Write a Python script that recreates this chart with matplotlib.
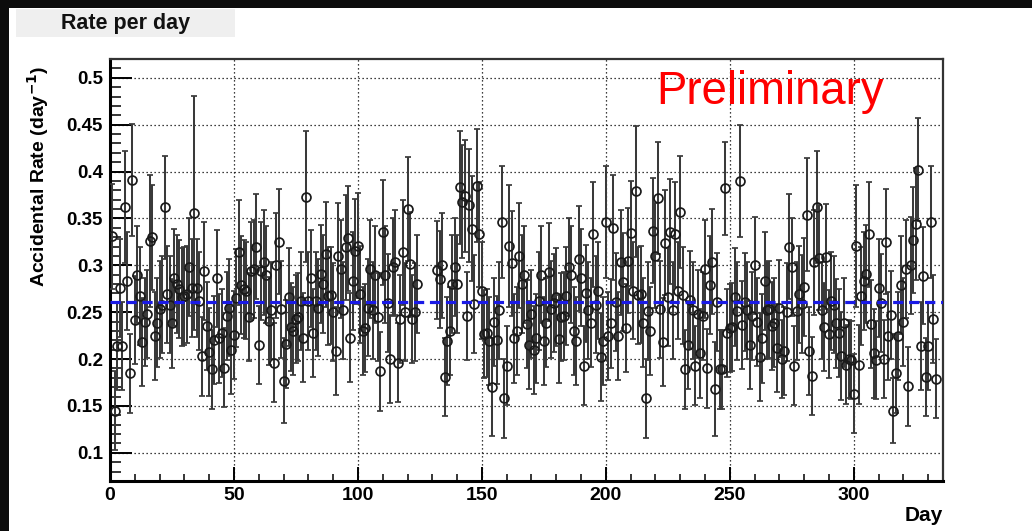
import matplotlib
matplotlib.use("Agg")
import matplotlib.pyplot as plt
from matplotlib.patches import Rectangle
from matplotlib.ticker import MultipleLocator, FuncFormatter

plt.rcParams['font.family'] = ['Liberation Sans', 'DejaVu Sans']

# ---------------- data ----------------
days = list(range(1, 125)) + list(range(132, 334))

rate = [
    0.331, 0.145, 0.214, 0.276, 0.214, 0.362, 0.283, 0.185, 0.391, 0.242,
    0.290, 0.267, 0.218, 0.240, 0.248, 0.326, 0.330, 0.225, 0.239, 0.253,
    0.258, 0.362, 0.269, 0.258, 0.238, 0.287, 0.280, 0.275, 0.266, 0.267,
    0.269, 0.298, 0.276, 0.356, 0.276, 0.262, 0.203, 0.294, 0.235, 0.208,
    0.189, 0.220, 0.286, 0.222, 0.228, 0.191, 0.246, 0.255, 0.210, 0.226,
    0.265, 0.314, 0.279, 0.275, 0.273, 0.245, 0.294, 0.296, 0.320, 0.215,
    0.294, 0.303, 0.290, 0.241, 0.252, 0.196, 0.300, 0.325, 0.253, 0.177,
    0.216, 0.266, 0.234, 0.230, 0.243, 0.245, 0.262, 0.223, 0.373, 0.262,
    0.286, 0.228, 0.262, 0.255, 0.291, 0.280, 0.312, 0.267, 0.268, 0.250,
    0.209, 0.310, 0.296, 0.252, 0.319, 0.329, 0.223, 0.283, 0.315, 0.321,
    0.269, 0.230, 0.233, 0.255, 0.296, 0.252, 0.290, 0.245, 0.187, 0.335,
    0.290, 0.260, 0.200, 0.298, 0.303, 0.196, 0.243, 0.314, 0.250, 0.360,
    0.301, 0.243, 0.250, 0.280,
    0.295, 0.285, 0.300, 0.181, 0.219, 0.230, 0.280, 0.298, 0.280,
    0.383, 0.368, 0.374, 0.246, 0.364, 0.339, 0.259, 0.385, 0.333, 0.273,
    0.227, 0.228, 0.219, 0.170, 0.240, 0.220, 0.252, 0.346, 0.158, 0.193,
    0.321, 0.302, 0.222, 0.230, 0.310, 0.280, 0.290, 0.237, 0.215, 0.248,
    0.210, 0.222, 0.262, 0.290, 0.219, 0.239, 0.293, 0.253, 0.260, 0.266,
    0.221, 0.245, 0.246, 0.267, 0.298, 0.290, 0.230, 0.219, 0.307, 0.287,
    0.193, 0.270, 0.252, 0.239, 0.333, 0.258, 0.273, 0.202, 0.219, 0.346,
    0.225, 0.238, 0.340, 0.261, 0.225, 0.303, 0.282, 0.233, 0.305, 0.334,
    0.273, 0.379, 0.268, 0.269, 0.239, 0.158, 0.251, 0.230, 0.337, 0.310,
    0.372, 0.253, 0.218, 0.324, 0.266, 0.336, 0.252, 0.333, 0.273, 0.357,
    0.268, 0.189, 0.215, 0.263, 0.252, 0.193, 0.248, 0.206, 0.246, 0.296,
    0.190, 0.279, 0.304, 0.168, 0.261, 0.189, 0.189, 0.382, 0.228, 0.233,
    0.234, 0.266, 0.251, 0.390, 0.236, 0.261, 0.252, 0.215, 0.246, 0.300,
    0.240, 0.202, 0.222, 0.283, 0.252, 0.253, 0.235, 0.239, 0.212, 0.254,
    0.200, 0.209, 0.250, 0.320, 0.298, 0.193, 0.251, 0.269, 0.259, 0.277,
    0.354, 0.209, 0.182, 0.303, 0.362, 0.308, 0.252, 0.234, 0.309, 0.227,
    0.262, 0.258, 0.238, 0.228, 0.203, 0.239, 0.194, 0.200, 0.199, 0.163,
    0.321, 0.194, 0.267, 0.283, 0.291, 0.333, 0.237, 0.206, 0.199, 0.276,
    0.260, 0.200, 0.325, 0.225, 0.247, 0.145, 0.185, 0.225, 0.279, 0.240,
    0.296, 0.171, 0.300, 0.327, 0.344, 0.402, 0.214, 0.289, 0.181, 0.214,
    0.346, 0.243, 0.179,
]

rate_err = [
    0.056, 0.042, 0.047, 0.052, 0.047, 0.060, 0.052, 0.042, 0.060, 0.047,
    0.052, 0.052, 0.047, 0.047, 0.047, 0.070, 0.056, 0.047, 0.047, 0.052,
    0.052, 0.055, 0.052, 0.052, 0.047, 0.052, 0.052, 0.052, 0.052, 0.052,
    0.052, 0.052, 0.052, 0.125, 0.052, 0.052, 0.042, 0.052, 0.047, 0.047,
    0.042, 0.047, 0.052, 0.047, 0.047, 0.042, 0.047, 0.052, 0.047, 0.047,
    0.052, 0.056, 0.052, 0.052, 0.052, 0.047, 0.052, 0.052, 0.056, 0.042,
    0.052, 0.056, 0.052, 0.047, 0.052, 0.042, 0.056, 0.056, 0.052, 0.045,
    0.047, 0.052, 0.047, 0.047, 0.047, 0.047, 0.052, 0.047, 0.070, 0.052,
    0.052, 0.047, 0.052, 0.052, 0.052, 0.052, 0.056, 0.052, 0.052, 0.052,
    0.047, 0.056, 0.052, 0.052, 0.056, 0.056, 0.047, 0.052, 0.056, 0.056,
    0.052, 0.047, 0.047, 0.052, 0.052, 0.052, 0.052, 0.047, 0.042, 0.056,
    0.052, 0.052, 0.047, 0.052, 0.056, 0.042, 0.047, 0.056, 0.052, 0.055,
    0.056, 0.047, 0.052, 0.052,
    0.052, 0.052, 0.056, 0.042, 0.047, 0.047, 0.052, 0.052, 0.052,
    0.060, 0.060, 0.060, 0.047, 0.060, 0.056, 0.052, 0.060, 0.056, 0.052,
    0.047, 0.047, 0.047, 0.052, 0.047, 0.047, 0.052, 0.060, 0.042, 0.042,
    0.065, 0.056, 0.047, 0.047, 0.056, 0.052, 0.052, 0.047, 0.047, 0.047,
    0.047, 0.047, 0.052, 0.052, 0.047, 0.047, 0.052, 0.052, 0.052, 0.052,
    0.047, 0.047, 0.047, 0.052, 0.052, 0.052, 0.047, 0.047, 0.056, 0.052,
    0.042, 0.052, 0.052, 0.047, 0.056, 0.052, 0.052, 0.047, 0.047, 0.060,
    0.047, 0.047, 0.056, 0.052, 0.047, 0.056, 0.052, 0.047, 0.056, 0.056,
    0.052, 0.070, 0.052, 0.052, 0.047, 0.042, 0.052, 0.047, 0.056, 0.056,
    0.060, 0.052, 0.047, 0.056, 0.052, 0.056, 0.052, 0.056, 0.052, 0.060,
    0.052, 0.042, 0.047, 0.052, 0.052, 0.042, 0.047, 0.047, 0.047, 0.052,
    0.042, 0.052, 0.056, 0.050, 0.052, 0.042, 0.042, 0.050, 0.047, 0.047,
    0.047, 0.052, 0.052, 0.060, 0.047, 0.052, 0.052, 0.047, 0.047, 0.052,
    0.047, 0.047, 0.047, 0.052, 0.052, 0.052, 0.047, 0.047, 0.047, 0.052,
    0.042, 0.047, 0.052, 0.056, 0.052, 0.042, 0.052, 0.052, 0.052, 0.052,
    0.060, 0.047, 0.042, 0.056, 0.060, 0.056, 0.052, 0.047, 0.056, 0.047,
    0.052, 0.052, 0.047, 0.047, 0.047, 0.047, 0.042, 0.042, 0.042, 0.042,
    0.065, 0.042, 0.052, 0.052, 0.052, 0.056, 0.047, 0.047, 0.042, 0.052,
    0.052, 0.042, 0.056, 0.047, 0.047, 0.035, 0.042, 0.047, 0.052, 0.047,
    0.052, 0.042, 0.052, 0.056, 0.060, 0.055, 0.047, 0.052, 0.042, 0.047,
    0.060, 0.047, 0.042,
]

mean_rate = 0.261

assert len(days) == len(rate) == len(rate_err)

# ---------------- figure ----------------
W, H = 1032, 531
fig = plt.figure(figsize=(W / 100, H / 100), dpi=100)
fig.patch.set_facecolor('white')

# dark screenshot borders (top and left)
fig.add_artist(Rectangle((0, 1 - 8 / H), 1, 8 / H, transform=fig.transFigure,
                         facecolor='#0c0c0c', edgecolor='none', zorder=0))
fig.add_artist(Rectangle((0, 0), 9 / W, 1, transform=fig.transFigure,
                         facecolor='#0c0c0c', edgecolor='none', zorder=0))

# title box
fig.add_artist(Rectangle((16 / W, 1 - 37 / H), (235 - 16) / W, (37 - 9) / H,
                         transform=fig.transFigure, facecolor='#efefef',
                         edgecolor='none', zorder=1))
fig.text(126 / W, 1 - 23 / H, 'Rate per day', ha='center', va='center',
         fontsize=15.5, fontweight='bold', color='#111111')

ax = fig.add_axes([110 / W, 1 - 481 / H, (943 - 110) / W, (481 - 59) / H])

ax.errorbar(days, rate, yerr=rate_err, fmt='o', mfc='none', mec='#1a1a1a',
            ms=6.4, mew=1.25, ecolor='#3a3a3a', elinewidth=1.45, capsize=2.2,
            capthick=1.2, zorder=3)

ax.axhline(mean_rate, color='#1a1ae6', lw=2.3, ls=(0, (3.2, 1.8)), zorder=5)

ax.set_xlim(0, 336)
ax.set_ylim(0.07, 0.52)

ax.xaxis.set_major_locator(MultipleLocator(50))
ax.xaxis.set_minor_locator(MultipleLocator(10))
ax.yaxis.set_major_locator(MultipleLocator(0.05))
ax.yaxis.set_minor_locator(MultipleLocator(0.01))
ax.yaxis.set_major_formatter(FuncFormatter(lambda v, p: '%g' % round(v, 3)))

ax.grid(True, which='major', color='black', linestyle=(0, (1, 2.2)), linewidth=0.9)
ax.set_axisbelow(True)

ax.tick_params(axis='both', which='both', direction='in', top=False, right=False,
               color='black')
ax.tick_params(axis='y', which='major', length=16, width=1.4, pad=5)
ax.tick_params(axis='y', which='minor', length=8, width=1.1)
ax.tick_params(axis='x', which='major', length=10, width=1.4, pad=4)
ax.tick_params(axis='x', which='minor', length=5, width=1.1)

for lab in ax.get_yticklabels():
    lab.set_fontsize(13.5)
    lab.set_fontweight('bold')
for lab in ax.get_xticklabels():
    lab.set_fontsize(14)
    lab.set_fontweight('bold')

ax.spines['left'].set_linewidth(2.2)
ax.spines['bottom'].set_linewidth(2.2)
ax.spines['top'].set_linewidth(1.6)
ax.spines['right'].set_linewidth(1.6)
ax.spines['top'].set_color('#333333')
ax.spines['right'].set_color('#333333')

# axis titles
fig.text(943 / W, 1 - 506 / H, 'Day', ha='right', va='top',
         fontsize=15, fontweight='bold')
fig.text(38 / W, 1 - 66 / H, r'Accidental Rate (day$^{\mathbf{-1}}$)', rotation=90,
         ha='center', va='top', fontsize=14, fontweight='bold')

# Preliminary label
fig.text(656 / W, 1 - 104 / H, 'Preliminary', ha='left', va='baseline',
         fontsize=32.8, color='#ff0000')

fig.savefig('out.png', dpi=100, facecolor=fig.get_facecolor())
